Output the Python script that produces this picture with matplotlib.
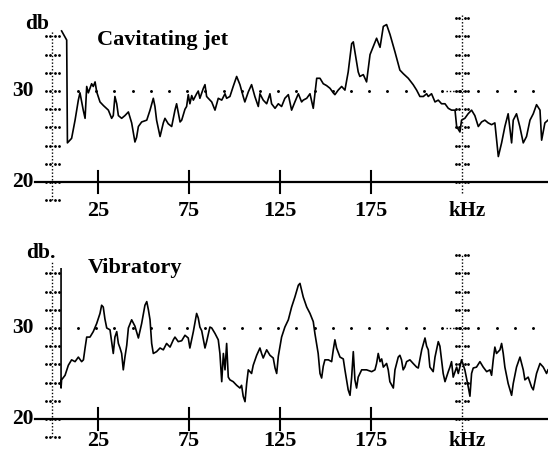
import matplotlib
matplotlib.use("Agg")
import matplotlib.pyplot as plt

plt.rcParams['font.family'] = ['Liberation Serif', 'DejaVu Serif']

# spectra read as (kHz, dB) pairs
jet_khz = [5.0, 7.8, 8.2, 10.5, 12.4, 14.2, 15.1, 16.9, 17.9, 18.8, 19.7, 21.5, 22.4, 23.4, 24.3,
           26.1, 28.0, 30.7, 32.5, 33.4, 34.3, 35.3, 36.2, 38.0, 39.8, 41.7, 43.5, 45.3, 46.2, 47.2,
           49.0, 51.8, 53.6, 55.4, 56.3, 57.2, 59.1, 60.9, 61.8, 63.6, 65.5, 67.3, 68.2, 70.1, 71.0,
           72.8, 73.7, 74.6, 75.5, 76.5, 77.4, 79.2, 80.1, 81.0, 82.9, 83.8, 84.7, 85.6, 87.5, 89.3,
           91.1, 93.0, 94.8, 95.7, 97.5, 99.3, 101.2, 103.0, 104.8, 105.7, 107.6, 109.4, 111.2, 113.1,
           114.0, 115.8, 117.7, 119.5, 120.4, 122.3, 124.1, 125.9, 127.7, 129.6, 131.4, 133.2, 135.1,
           136.9, 137.8, 139.7, 141.5, 143.3, 145.2, 147.0, 148.8, 150.6, 152.5, 154.3, 155.2, 157.0,
           158.9, 160.7, 162.5, 164.4, 165.3, 166.2, 168.0, 168.9, 170.8, 172.6, 174.5, 176.3, 178.1,
           180.0, 181.8, 183.6, 185.5, 188.2, 190.9, 192.8, 195.5, 198.2, 200.1, 201.9, 203.8, 205.6,
           206.5, 208.3, 210.2, 212.0, 213.8, 215.7, 217.5, 219.3, 221.2, 222.1, 223.9, 224.8, 226.6,
           228.4, 230.3, 232.1, 234.0, 235.8, 237.6, 239.4, 241.3, 243.1, 245.0, 246.8, 248.6, 250.4,
           252.3, 253.2, 255.0, 256.8, 258.7, 260.5, 262.4, 264.2, 266.0, 267.9, 268.8, 270.6, 272.3]
jet_db = [36.6, 35.6, 24.3, 24.8, 26.8, 29.0, 29.8, 27.9, 27.0, 30.5, 29.8, 30.8, 30.5, 31.0, 29.9,
          28.8, 28.4, 27.9, 27.0, 27.3, 29.4, 28.6, 27.3, 27.0, 27.3, 27.7, 26.5, 24.4, 24.9, 26.1,
          26.6, 26.8, 27.9, 29.2, 28.3, 26.8, 25.0, 26.5, 27.0, 26.4, 26.1, 27.9, 28.6, 26.6, 26.8,
          28.0, 28.3, 29.6, 28.6, 29.5, 29.0, 29.7, 30.0, 29.2, 30.3, 30.7, 29.4, 29.2, 28.8, 27.9,
          29.2, 29.0, 29.7, 29.2, 29.4, 30.5, 31.6, 30.7, 29.4, 28.8, 29.9, 30.7, 29.4, 28.3,
          29.7, 29.0, 28.6, 29.7, 28.6, 28.1, 28.6, 28.3, 29.2, 29.6, 27.9, 28.8, 29.7,
          28.8, 29.0, 29.2, 29.7, 28.1, 31.4, 31.4, 30.8, 30.6, 30.3, 29.8, 29.6, 30.1,
          30.5, 30.1, 32.1, 35.2, 35.4, 34.3, 32.1, 31.6, 31.8, 31.0, 34.0, 34.9, 35.8,
          34.8, 37.1, 37.3, 36.2, 34.3, 32.3, 31.9, 31.4, 30.7, 30.1, 29.4, 29.4, 29.7,
          29.4, 29.7, 28.8, 29.0, 28.6, 28.6, 28.1, 27.9, 27.9, 26.1, 25.5, 26.8, 27.0,
          27.5, 27.9, 27.3, 26.1, 26.6, 26.8, 26.5, 26.3, 26.5, 22.8, 24.3, 26.1, 27.5,
          24.3, 26.8, 27.5, 26.1, 24.3, 25.0, 26.8, 27.5, 28.5, 27.9, 24.6, 26.5, 26.8]

vib_khz = [4.7, 4.7, 5.0, 6.9, 8.7, 10.5, 12.4, 14.2, 16.0, 17.0, 17.9, 18.8, 20.6, 22.4, 24.3,
           26.1, 27.0, 27.9, 28.8, 29.8, 31.6, 32.5, 33.4, 34.3, 35.3, 36.2, 37.1, 38.0, 38.9, 39.8,
           40.8, 41.7, 43.5, 45.3, 47.2, 49.0, 50.8, 51.8, 52.7, 53.6, 54.5, 55.4, 57.2, 59.1, 60.9,
           62.7, 64.6, 66.4, 67.3, 69.1, 71.0, 72.8, 74.6, 75.5, 77.4, 79.2, 80.1, 81.0, 82.0, 83.8,
           84.7, 86.5, 87.5, 89.3, 91.1, 92.0, 93.0, 93.9, 94.8, 95.7, 96.6, 97.5, 99.3, 101.2, 103.0,
           103.9, 104.8, 105.8, 106.7, 107.6, 109.4, 110.3, 112.2, 114.0, 114.9, 115.8, 117.7, 119.5,
           121.3, 122.3, 123.2, 124.1, 125.9, 127.7, 129.6, 131.4, 133.2, 135.1, 136.0, 137.8, 139.7,
           141.5, 143.3, 144.2, 146.0, 147.0, 147.9, 148.8, 149.7, 151.6, 153.4, 154.3, 155.2, 156.1,
           158.0, 159.8, 160.7, 162.5, 163.5, 164.4, 165.3, 166.2, 167.1, 168.0, 169.9, 172.6, 175.4,
           177.2, 178.1, 179.0, 180.0, 180.9, 181.8, 183.6, 184.5, 185.4, 187.3, 188.2, 190.0, 190.9,
           191.8, 192.7, 193.6, 194.6, 196.4, 198.2, 200.1, 201.0, 202.9, 204.7, 205.6, 206.5, 207.4,
           209.2, 210.2, 212.0, 212.9, 213.8, 214.7, 215.7, 217.5, 218.4, 219.3, 220.2, 222.1, 223.0,
           224.8, 226.6, 228.5, 229.4, 230.3, 231.2, 233.0, 234.9, 236.7, 238.6, 240.4, 241.3, 242.2,
           243.1, 244.0, 245.9, 246.8, 247.7, 248.6, 250.4, 252.3, 253.2, 255.0, 256.9, 258.7, 259.6,
           261.4, 263.3, 264.2, 266.0, 267.9, 269.7, 271.5, 272.3]
vib_db = [36.5, 23.4, 24.3, 24.8, 25.9, 26.5, 26.3, 26.8, 26.3, 26.5, 27.8, 29.0, 29.0, 29.6, 30.5,
          31.6, 32.5, 32.3, 31.0, 30.0, 29.8, 28.5, 27.2, 29.0, 29.6, 28.3, 27.8, 27.2, 25.4, 26.8,
          28.1, 30.0, 30.9, 30.2, 28.9, 30.5, 32.5, 32.9, 32.0, 30.9, 28.3, 27.2, 27.4, 27.8, 27.6,
          28.3, 27.9, 28.7, 29.0, 28.5, 28.6, 29.2, 28.9, 27.8, 29.6, 31.6, 31.1, 30.1, 29.7, 27.8,
          28.5, 30.1, 30.0, 29.4, 28.7, 27.2, 24.1, 27.2, 25.4, 28.3, 24.6, 24.3, 24.1, 23.7, 23.4,
          23.7, 22.5, 21.9, 23.9, 25.4, 25.0, 25.9, 27.0, 27.8, 27.2, 26.7, 27.6, 27.0,
          26.7, 25.6, 25.0, 26.9, 29.0, 30.1, 30.9, 32.3, 33.4, 34.7, 34.9, 33.4, 32.3,
          31.6, 30.7, 29.4, 27.2, 25.0, 24.5, 25.8, 26.5, 26.5, 26.3, 27.6, 28.7, 27.8,
          26.8, 26.6, 25.4, 23.2, 22.6, 24.6, 27.4, 24.3, 23.4, 24.6, 25.4, 25.4, 25.2,
          25.4, 26.1, 27.2, 26.3, 26.6, 25.7, 26.1, 25.4, 24.1, 23.4, 25.4, 26.8, 27.0,
          26.5, 25.4, 25.7, 26.3, 26.5, 26.1, 25.7, 25.6, 27.6, 28.9, 28.0, 27.6, 25.7,
          25.2, 26.8, 28.5, 28.0, 26.5, 25.0, 24.1, 25.2, 25.7, 26.3, 24.6, 25.7, 25.0,
          26.5, 25.4, 23.5, 22.5, 25.0, 25.6, 25.7, 26.3, 25.7, 25.2, 25.4, 24.8, 26.5,
          27.9, 27.2, 27.6, 28.3, 27.2, 25.7, 23.9, 22.6, 23.9, 25.7, 26.8, 25.4, 24.3,
          24.6, 23.5, 23.2, 25.0, 26.1, 25.7, 25.0, 25.4]

freq_ticks = [25, 75, 125, 175]
tick_labels = ['25', '75', '125', '175']
marker_khz = 225
level_labels = [20, 30]

DOT = (0, (1.0, 1.4))
BOLD = dict(fontweight='bold', color='black')


def draw_panel(ax, khz, db, title, title_x, title_y, unit_label, unit_x,
               ylim, axis_top, marker_top, label_y):
    ax.set_xlim(-28.85, 272.3)
    ax.set_ylim(*ylim)
    ax.axis('off')

    # dotted level axis and the dotted kHz marker, both with small crosses every 2 dB
    ax.plot([0, 0], [18.0, axis_top], color='k', lw=1.0, ls=DOT)
    for lv in range(18, int(axis_top) + 1, 2):
        ax.plot([-3.3, -1.6, 1.6, 3.3], [lv] * 4, 'k.', ms=2.0)
    ax.plot([marker_khz, marker_khz], [18.8, marker_top], color='k', lw=1.0, ls=DOT)
    for lv in range(20, int(marker_top) + 1, 2):
        ax.plot([marker_khz - 3.3, marker_khz - 1.6, marker_khz + 1.6, marker_khz + 3.3],
                [lv] * 4, 'k.', ms=2.0)
    ax.plot([marker_khz - 9, marker_khz + 3], [30, 30], color='k', lw=1.0, ls=DOT)

    # sparse dots along 30 dB
    ax.plot(list(range(14, 272, 10)), [30] * len(range(14, 272, 10)), 'k.', ms=2.2)

    # base line with ticks
    ax.plot([-9.6, 272.3], [20, 20], 'k-', lw=1.6)
    for t, lab in zip(freq_ticks, tick_labels):
        ax.plot([t, t], [18.8, 21.2], 'k-', lw=1.5)
        ax.text(t, label_y, lab, ha='center', va='center', fontsize=16, **BOLD)
    ax.text(marker_khz + 3, label_y, 'kHz', ha='center', va='center', fontsize=15, **BOLD)
    for lv in level_labels:
        ax.text(-16.5, lv, str(lv), ha='center', va='center', fontsize=15.5, **BOLD)

    ax.text(unit_x, ylim[1] - 2.6, unit_label, ha='center', va='center', fontsize=15.5, **BOLD)
    ax.text(title_x, title_y, title, ha='left', va='center', fontsize=16, **BOLD)

    ax.plot(khz, db, color='black', lw=1.2)


fig = plt.figure(figsize=(5.48, 4.58), dpi=100)
ax_top = fig.add_axes([0, 0.5, 1, 0.5])
ax_bot = fig.add_axes([0, 0, 1, 0.5])

draw_panel(ax_top, jet_khz, jet_db, 'Cavitating jet', 24.5, 35.6, 'db', -8.5,
           (14.84, 40.0), 36.6, 38.4, 16.8)
draw_panel(ax_bot, vib_khz, vib_db, 'Vibratory', 19.5, 36.6, 'db.', -6.5,
           (15.71, 40.88), 37.2, 38.1, 17.6)

fig.savefig('out.png', dpi=100)
